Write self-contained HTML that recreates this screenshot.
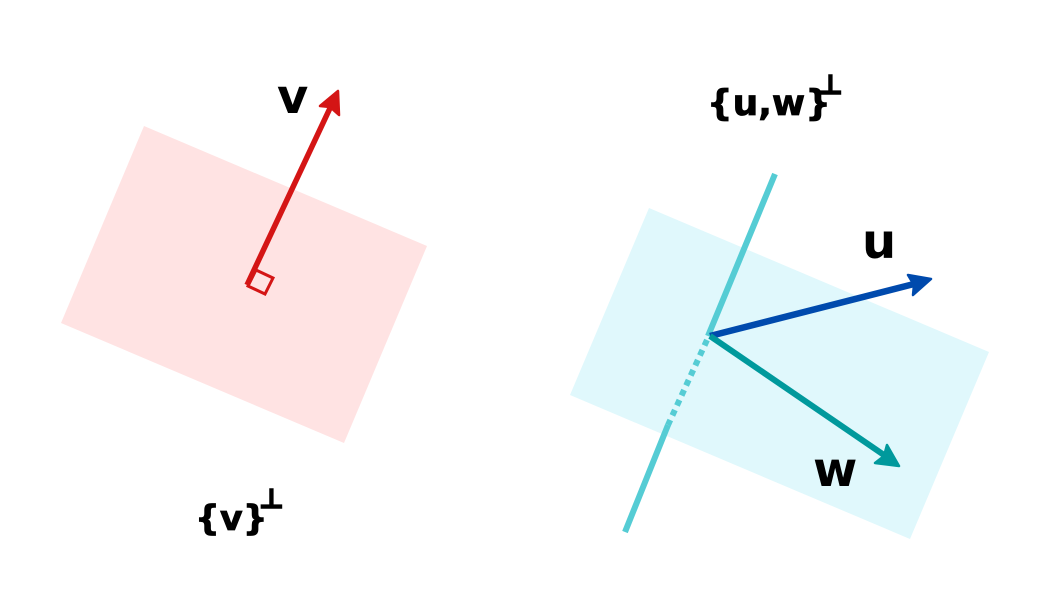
<!DOCTYPE html>
<html><head><meta charset="utf-8"><style>
html,body{margin:0;padding:0;background:#fff;width:1050px;height:600px;overflow:hidden}
text{font-family:"DejaVu Sans","Liberation Sans",sans-serif;font-weight:bold;fill:#000}
</style></head><body>
<svg width="1050" height="600" viewBox="0 0 1050 600" xmlns="http://www.w3.org/2000/svg">
<polygon points="144,126 427,246 344,443 61,323" fill="#ffe3e3"/>
<polygon points="649,208 989,352 910,539 570,395" fill="#e0f8fc"/>
<!-- left -->
<line x1="247" y1="285" x2="331" y2="106" stroke="#d41515" stroke-width="5.5"/>
<polygon points="338,91 339,115 330,107 320,106" fill="#d41515" stroke="#d41515" stroke-width="2.5" stroke-linejoin="round"/>
<polygon points="256,270 273,278 265,294 248,286" fill="none" stroke="#d41515" stroke-width="3"/>
<text x="277" y="113" font-size="48">v</text>
<text x="195" y="530" font-size="35" stroke="#000" stroke-width="0.8">{v}</text>
<text x="259" y="508" font-size="27" stroke="#000" stroke-width="1.5">⊥</text>
<!-- right -->
<line x1="775" y1="174" x2="708" y2="336" stroke="#55ccd4" stroke-width="6"/>
<line x1="707" y1="340" x2="668" y2="425" stroke="#55ccd4" stroke-width="6" stroke-dasharray="6,5"/>
<line x1="668" y1="425" x2="625" y2="532" stroke="#55ccd4" stroke-width="6"/>
<line x1="710" y1="336" x2="914" y2="284" stroke="#004aad" stroke-width="6.5"/>
<polygon points="931,279 913,295 914,285 908,275" fill="#004aad" stroke="#004aad" stroke-width="2.5" stroke-linejoin="round"/>
<line x1="710" y1="336" x2="884" y2="455" stroke="#00999c" stroke-width="6"/>
<polygon points="899,466 875,463 884,456 887,445" fill="#00999c" stroke="#00999c" stroke-width="2.5" stroke-linejoin="round"/>
<text x="862" y="258" font-size="48">u</text>
<text x="813" y="486" font-size="48">w</text>
<text x="707" y="115" font-size="36" stroke="#000" stroke-width="0.8">{u,w}</text>
<text x="818" y="94" font-size="27" stroke="#000" stroke-width="1.5">⊥</text>
</svg>
</body></html>
